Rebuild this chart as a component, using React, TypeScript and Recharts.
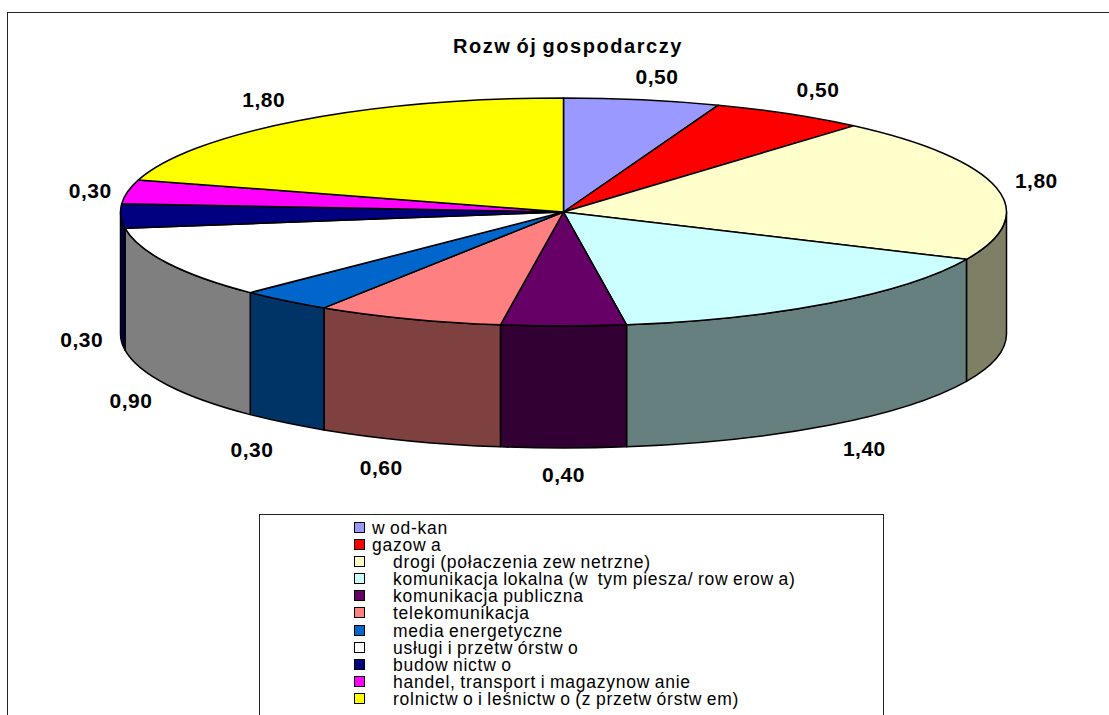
import { Legend, Pie, PieChart } from "recharts";

const categories = [
  "w od-kan",
  "gazow a",
  "drogi (połaczenia zew netrzne)",
  "komunikacja lokalna (w  tym piesza/ row erow a)",
  "komunikacja publiczna",
  "telekomunikacja",
  "media energetyczne",
  "usługi i przetw órstw o",
  "budow nictw o",
  "handel, transport i magazynow anie",
  "rolnictw o i leśnictw o (z przetw órstw em)",
];
const values = [0.5, 0.5, 1.8, 1.4, 0.4, 0.6, 0.3, 0.9, 0.3, 0.3, 1.8];
const colors = [
  "#9999ff",
  "#ff0000",
  "#ffffcc",
  "#ccffff",
  "#660066",
  "#ff8080",
  "#0066cc",
  "#ffffff",
  "#000080",
  "#ff00ff",
  "#ffff00",
];
// hand tweaks for the value labels, [dx, dy] off the ellipse they sit on
const labelNudges = [
  [7, 4],
  [6, 0],
  [-3, -1],
  [9, 1],
  [0, -2],
  [-12, 0],
  [-6, 5],
  [3, 3],
  [5, 0],
  [6, 4],
  [-8, 1],
];

const data = categories.map((name, i) => ({
  name,
  value: values[i],
  fill: colors[i],
}));

const CX = 563.5;
const CY = 212;
const RX = 443;
const SQUASH = 114 / 443;
const DEPTH = 122;
const FONT = "'Liberation Sans', Arial, sans-serif";

const RAD = Math.PI / 180;

function shade(hex: string) {
  const n = parseInt(hex.slice(1), 16);
  const half = (v: number) => (v >> 1).toString(16).padStart(2, "0");
  return `#${half((n >> 16) & 255)}${half((n >> 8) & 255)}${half(n & 255)}`;
}

function pt(cx: number, cy: number, r: number, a: number) {
  return [cx + r * Math.cos(a * RAD), cy - r * SQUASH * Math.sin(a * RAD)];
}

// top face, the pie is flattened by hand since recharts only knows circles
function TopSlice(props: any) {
  const { cx, cy, outerRadius: r, startAngle, endAngle, fill } = props;
  const [x1, y1] = pt(cx, cy, r, startAngle);
  const [x2, y2] = pt(cx, cy, r, endAngle);
  const large = Math.abs(startAngle - endAngle) > 180 ? 1 : 0;
  return (
    <path
      d={`M${cx},${cy}L${x1},${y1}A${r},${r * SQUASH} 0 ${large} 1 ${x2},${y2}Z`}
      fill={fill}
      stroke="#000"
      strokeWidth={1.5}
      strokeLinejoin="round"
    />
  );
}

// side wall, only the part in the front half of the ellipse can be seen
function WallSlice(props: any) {
  const { cx, cy, outerRadius: r, startAngle, endAngle, fill } = props;
  const from = Math.min(startAngle, 0);
  const to = Math.max(endAngle, -180);
  if (from <= to) return <g />;
  const [x1, y1] = pt(cx, cy, r, from);
  const [x2, y2] = pt(cx, cy, r, to);
  const ry = r * SQUASH;
  return (
    <path
      d={`M${x1},${y1}A${r},${ry} 0 0 1 ${x2},${y2}L${x2},${y2 + DEPTH}A${r},${ry} 0 0 0 ${x1},${y1 + DEPTH}Z`}
      fill={shade(fill)}
      stroke="#000"
      strokeWidth={1.5}
      strokeLinejoin="round"
    />
  );
}

function valueLabel(props: any) {
  const { cx, cy, midAngle, value, index } = props;
  const [dx, dy] = labelNudges[index];
  const x = cx + 487 * Math.cos(midAngle * RAD) + dx;
  const sin = Math.sin(midAngle * RAD);
  const y = cy - 142 * sin + (sin < 0 ? DEPTH : 0) + dy;
  return (
    <text
      x={x}
      y={y}
      textAnchor="middle"
      dominantBaseline="central"
      fontFamily={FONT}
      fontWeight="bold"
      fontSize={21}
      letterSpacing={0.5}
      fill="#000"
    >
      {value.toFixed(2).replace(".", ",")}
    </text>
  );
}

function LegendBox(props: any) {
  // the wall pie adds its own entries after the top ones
  const payload = (props.payload ?? []).slice(0, categories.length);
  return (
    <div
      style={{
        boxSizing: "border-box",
        height: 202,
        border: "1px solid #222",
        borderBottom: "none",
        background: "#fff",
        paddingTop: 5,
        fontFamily: FONT,
        fontSize: 17.5,
        letterSpacing: 0.75,
        wordSpacing: -1,
        color: "#000",
      }}
    >
      {payload.map((entry: any, i: number) => (
        <div
          key={i}
          style={{ height: 17.1, lineHeight: "17px", whiteSpace: "pre", position: "relative" }}
        >
          <span
            style={{
              position: "absolute",
              left: 94,
              top: 2,
              width: 9,
              height: 9,
              background: colors[i],
              border: "1.5px solid #000",
            }}
          />
          <span style={{ position: "absolute", left: i < 2 ? 112 : 133 }}>{entry.value}</span>
        </div>
      ))}
    </div>
  );
}

export default function App() {
  return (
    <div
      style={{
        position: "absolute",
        left: 0,
        top: 0,
        width: 1109,
        height: 715,
        overflow: "hidden",
        background: "#fff",
      }}
    >
      <div
        style={{
          position: "absolute",
          left: 7,
          top: 12,
          width: 1200,
          height: 800,
          border: "1.5px solid #222",
        }}
      />
      <PieChart
        width={1109}
        height={715}
        margin={{ top: 0, right: 0, bottom: 0, left: 0 }}
        style={{ position: "absolute", left: 0, top: 0 }}
      >
        <text
          x={568}
          y={53}
          textAnchor="middle"
          fontFamily={FONT}
          fontWeight="bold"
          fontSize={20}
          letterSpacing={1.55}
          wordSpacing={-2}
          fill="#000"
        >
          Rozw ój gospodarczy
        </text>
        <Pie
          data={data}
          dataKey="value"
          nameKey="name"
          cx={CX}
          cy={CY}
          outerRadius={RX}
          startAngle={90}
          endAngle={-270}
          legendType="none"
          shape={WallSlice}
          isAnimationActive={false}
        />
        <Pie
          data={data}
          dataKey="value"
          nameKey="name"
          cx={CX}
          cy={CY}
          outerRadius={RX}
          startAngle={90}
          endAngle={-270}
          shape={TopSlice}
          label={valueLabel}
          labelLine={false}
          isAnimationActive={false}
        />
        <Legend
          content={LegendBox}
          itemSorter={null}
          wrapperStyle={{ left: 259, top: 514, width: 625, bottom: "auto", height: 202 }}
        />
      </PieChart>
    </div>
  );
}
